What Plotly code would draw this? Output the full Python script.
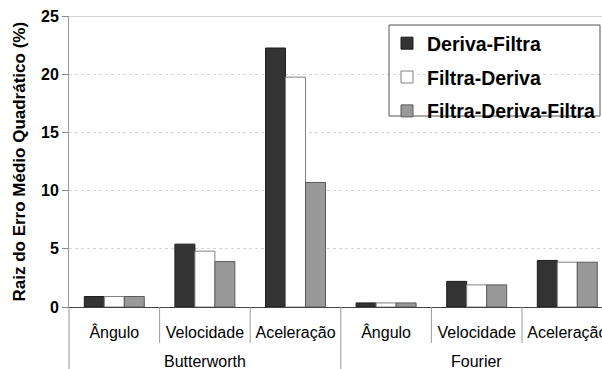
import plotly.graph_objects as go

outer = ["Butterworth", "Fourier"]
inner = ["Ângulo", "Velocidade", "Aceleração", "Ângulo", "Velocidade", "Aceleração"]
group_size = 3

series_names = ["Deriva-Filtra", "Filtra-Deriva", "Filtra-Deriva-Filtra"]
deriva_filtra = [0.9, 5.4, 22.25, 0.35, 2.2, 4.0]
filtra_deriva = [0.9, 4.8, 19.75, 0.35, 1.9, 3.85]
filtra_deriva_filtra = [0.9, 3.9, 10.7, 0.35, 1.9, 3.85]

y_ticks = [0, 5, 10, 15, 20, 25]

colors = ["#333333", "#ffffff", "#999999"]
edges = ["#1e1e1e", "#808080", "#5a5a5a"]

FONT = "Liberation Sans, Arial, sans-serif"
W, H = 602, 369
L, T, B = 69, 16, 62
plot_h = H - T - B
plot_w = W - L

positions = list(range(len(inner)))

fig = go.Figure()
for i, (name, vals) in enumerate(zip(series_names, [deriva_filtra, filtra_deriva, filtra_deriva_filtra])):
    fig.add_trace(go.Bar(
        x=positions, y=vals, name=name,
        marker=dict(color=colors[i], line=dict(color=edges[i], width=1)),
        legendgroup=name,
    ))

fig.update_layout(
    width=W, height=H,
    margin=dict(l=L, r=0, t=T, b=B, autoexpand=False),
    paper_bgcolor="white", plot_bgcolor="white",
    barmode="group", bargap=0.338, bargroupgap=0,
    font=dict(family=FONT, color="black"),
    showlegend=True,
    legend=dict(
        x=(387 - L) / plot_w, xanchor="left", y=1 - (24 - T) / plot_h, yanchor="top",
        borderwidth=0, bgcolor="rgba(0,0,0,0)",
        font=dict(size=19.5, family=FONT, color="black", weight="bold"),
        traceorder="grouped", tracegroupgap=5.5,
    ),
    xaxis=dict(
        range=[-0.5, -0.5 + plot_w / 90.6],
        tickvals=positions, ticktext=inner,
        ticks="", tickfont=dict(size=16, color="black"),
        ticklabelstandoff=11, ticklabeloverflow="allow",
        showline=True, linecolor="#444444", linewidth=1,
        showgrid=False, zeroline=False, fixedrange=True,
    ),
    yaxis=dict(
        range=[0, 25], tickvals=y_ticks,
        tickfont=dict(size=16, color="black", weight="bold"),
        showgrid=True, gridcolor="#d6d6d6", griddash="dot", gridwidth=1,
        showline=True, linecolor="#9a9a9a", linewidth=1,
        ticks="outside", ticklen=6, tickcolor="#8a8a8a",
        zeroline=False, fixedrange=True,
    ),
)

# y-axis title
fig.add_annotation(
    text="Raiz do Erro Médio Quadrático (%)", textangle=-90,
    xref="paper", yref="paper", x=(19 - L) / plot_w, y=0.5,
    xanchor="center", yanchor="middle", showarrow=False,
    font=dict(size=17, family=FONT, color="black", weight="bold"),
)

# legend frame
fig.add_shape(type="rect", xref="paper", yref="paper",
              x0=(389 - L) / plot_w, x1=(600 - L) / plot_w,
              y0=1 - (116 - T) / plot_h, y1=1 - (25 - T) / plot_h,
              line=dict(color="#555555", width=1), fillcolor="rgba(0,0,0,0)", layer="above")

# top border line at max value
fig.add_shape(type="line", xref="paper", yref="y", x0=0, x1=1, y0=y_ticks[-1], y1=y_ticks[-1],
              line=dict(color="#a8a8a8", width=1))

# category dividers below the axis
bottom_short = -36 / plot_h
bottom_long = -(B + 5) / plot_h
for k in range(1, len(inner)):
    xb = positions[k] - 0.5
    long = (k % group_size == 0)
    fig.add_shape(type="line", xref="x", yref="paper", x0=xb, x1=xb,
                  y0=bottom_long if long else bottom_short, y1=0,
                  line=dict(color="#9a9a9a", width=1))
fig.add_shape(type="line", xref="paper", yref="paper", x0=0, x1=0, y0=bottom_long, y1=0,
              line=dict(color="#9a9a9a", width=1))

# outer group labels
for g, name in enumerate(outer):
    xc = sum(positions[g * group_size:(g + 1) * group_size]) / group_size
    fig.add_annotation(text=name, xref="x", yref="paper", x=xc, y=-(361 - T - plot_h) / plot_h,
                       xanchor="center", yanchor="middle", showarrow=False,
                       font=dict(size=16, family=FONT, color="black"))

fig.write_html("out.html", config={"displayModeBar": False},
               post_script="document.body.style.margin='0';document.body.style.overflow='hidden';")
